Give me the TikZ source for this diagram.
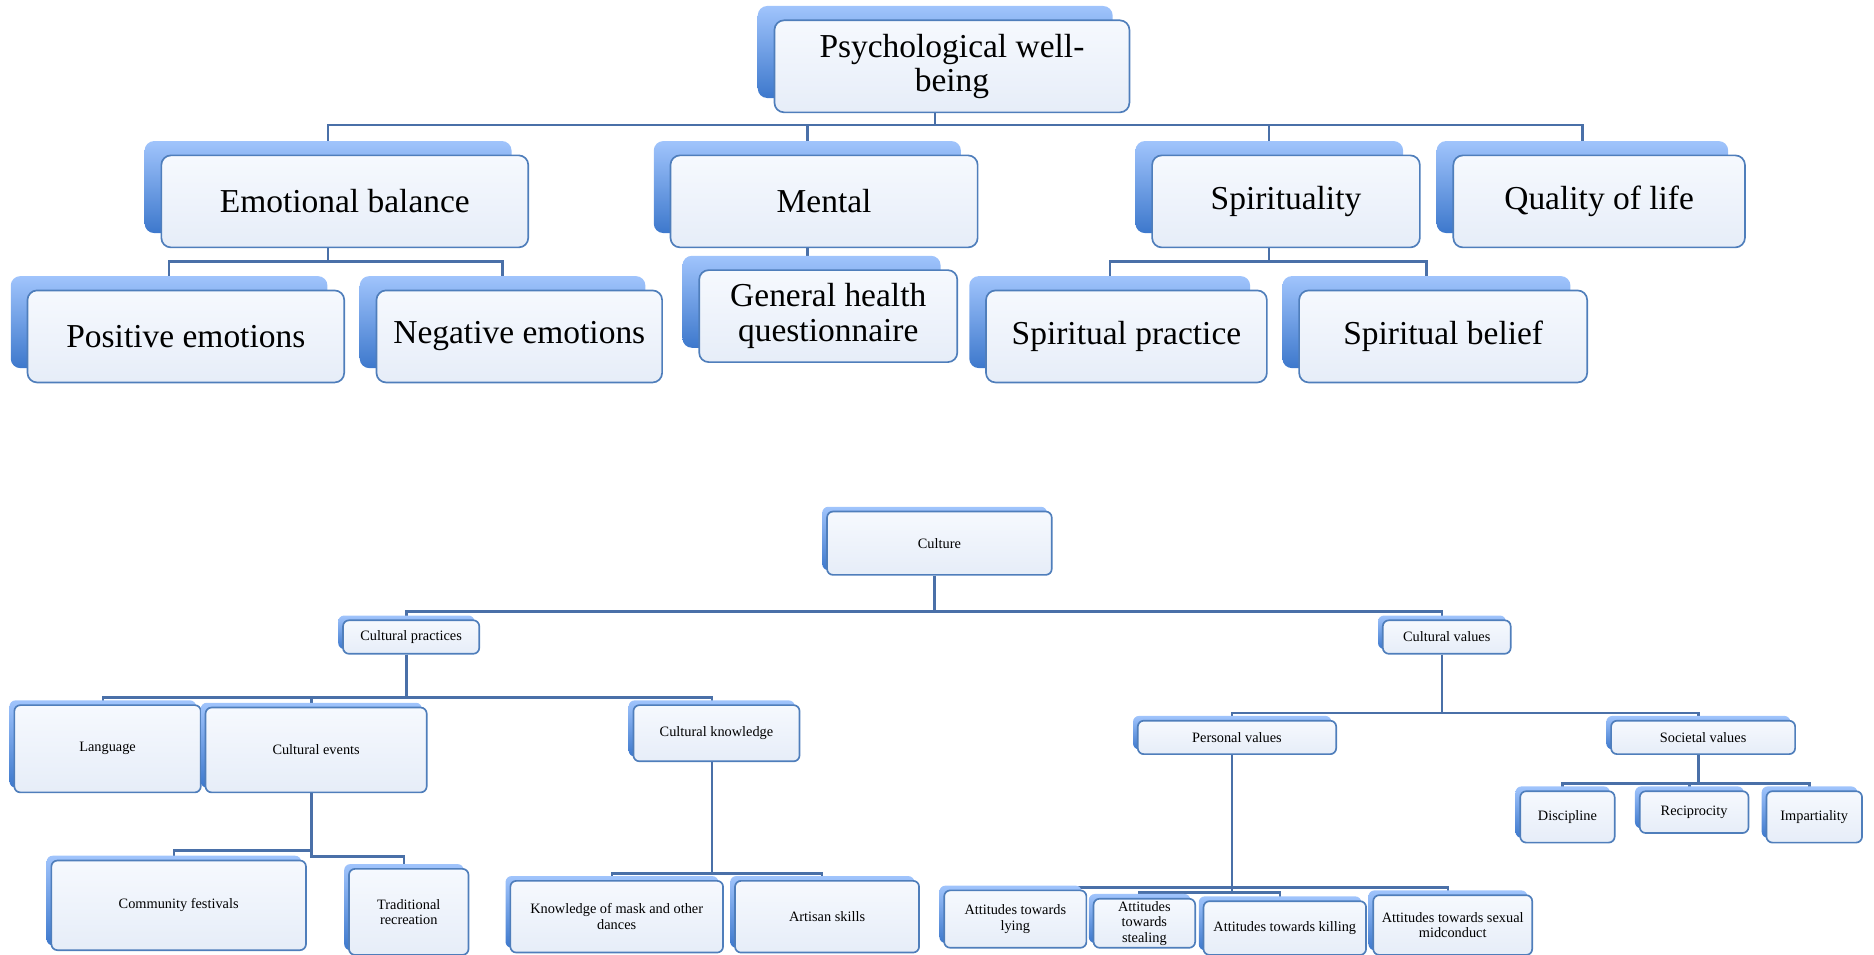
\documentclass[tikz,border=0pt]{standalone}
\usepackage{fontspec}
\setmainfont{Liberation Serif}
\usetikzlibrary{shadows,backgrounds}

\definecolor{bordo}{HTML}{4F7EBB}
\definecolor{blulinea}{HTML}{4A70A8}
\definecolor{fondoA}{HTML}{F6F9FE}
\definecolor{fondoB}{HTML}{E6EDF8}
\definecolor{ombraA}{HTML}{A0C4FC}
\definecolor{ombraB}{HTML}{3D78CC}

\begin{document}
\begin{tikzpicture}[x=0.5pt, y=-0.5pt]
	% Stili per i riquadri e le linee
	\tikzset{
		riquadro/.style={draw=bordo, line width=0.7pt, top color=fondoA, bottom color=fondoB, align=center, inner sep=1pt},
		grande/.style={riquadro, rounded corners=4pt, font=\fontsize{14}{14.5}\selectfont, minimum height=38.5pt,
			general shadow={shadow xshift=-7pt, shadow yshift=6pt, top color=ombraA, bottom color=ombraB}},
		piccolo/.style={riquadro, rounded corners=2.5pt, font=\fontsize{6}{6.5}\selectfont,
			general shadow={shadow xshift=-2pt, shadow yshift=2pt, top color=ombraA, bottom color=ombraB}},
		linea/.style={draw=blulinea, line width=1pt}
	}
	\useasboundingbox (0,0) rectangle (1568,799);

	% Benessere psicologico (parte alta)
	\node[grande, minimum width=148.5pt] (pwb) at (796.5,55.5) {Psychological well-\\being};
	\node[grande, minimum width=153.5pt] (emo) at (288.5,168.5) {Emotional balance};
	\node[grande, minimum width=128.5pt] (men) at (689.5,168.5) {Mental};
	\node[grande, minimum width=112pt] (spi) at (1076,168.5) {Spirituality};
	\node[grande, minimum width=122pt] (qol) at (1338,168.5) {Quality of life};
	\node[grande, minimum width=132.5pt] (pos) at (155.5,281.5) {Positive emotions};
	\node[grande, minimum width=119.5pt] (neg) at (434.5,281.5) {Negative emotions};
	\node[grande, minimum width=108pt] (ghq) at (693,264.5) {General health\\questionnaire};
	\node[grande, minimum width=117.5pt] (spp) at (942.5,281.5) {Spiritual practice};
	\node[grande, minimum width=120.5pt] (spb) at (1207.5,281.5) {Spiritual belief};

	% Cultura (parte bassa)
	\node[piccolo, minimum width=94pt, minimum height=26.5pt] (cul) at (786,454.5) {Culture};
	\node[piccolo, minimum width=57pt, minimum height=14pt] (cpr) at (344,533) {Cultural practices};
	\node[piccolo, minimum width=53.5pt, minimum height=14pt] (cva) at (1210.5,533) {Cultural values};
	\node[piccolo, minimum width=78pt, minimum height=36.5pt] (lan) at (90,626.5) {Language};
	\node[piccolo, minimum width=92.5pt, minimum height=35.5pt] (cev) at (264.5,627.5) {Cultural events};
	\node[piccolo, minimum width=69.5pt, minimum height=23.5pt] (ckn) at (599.5,613.5) {Cultural knowledge};
	\node[piccolo, minimum width=106.5pt, minimum height=37.5pt] (fes) at (149.5,757.5) {Community festivals};
	\node[piccolo, minimum width=50pt, minimum height=36pt] (rec) at (342,763) {Traditional\\recreation};
	\node[piccolo, minimum width=89pt, minimum height=30pt] (mas) at (516,767) {Knowledge of mask and other\\dances};
	\node[piccolo, minimum width=77pt, minimum height=30pt] (art) at (692,767) {Artisan skills};
	\node[piccolo, minimum width=83pt, minimum height=14pt] (pva) at (1035,617) {Personal values};
	\node[piccolo, minimum width=77pt, minimum height=14pt] (sva) at (1425,617) {Societal values};
	\node[piccolo, minimum width=59.5pt, minimum height=24pt] (lyi) at (849.5,769) {Attitudes towards\\lying};
	\node[piccolo, minimum width=42.5pt, minimum height=20.5pt] (ste) at (957.5,772.5) {Attitudes\\towards\\stealing};
	\node[piccolo, minimum width=68pt, minimum height=22.5pt] (kil) at (1075,776.5) {Attitudes towards killing};
	\node[piccolo, minimum width=66.5pt, minimum height=25pt] (sex) at (1215.5,774) {Attitudes towards sexual\\midconduct};
	\node[piccolo, minimum width=39.5pt, minimum height=21.5pt] (dis) at (1311.5,683.5) {Discipline};
	\node[piccolo, minimum width=45.5pt, minimum height=17.5pt] (rci) at (1417.5,679.5) {Reciprocity};
	\node[piccolo, minimum width=40pt, minimum height=21.5pt] (imp) at (1518,683.5) {Impartiality};

	% Collegamenti ad albero (sotto i riquadri)
	\begin{scope}[on background layer]
		\draw[linea] ([xshift=-7pt]pwb.south) -- ++(0,-5pt) -| ([xshift=-7pt]emo.north);
		\draw[linea] ([xshift=-7pt]pwb.south) -- ++(0,-5pt) -| ([xshift=-7pt]men.north);
		\draw[linea] ([xshift=-7pt]pwb.south) -- ++(0,-5pt) -| ([xshift=-7pt]spi.north);
		\draw[linea] ([xshift=-7pt]pwb.south) -- ++(0,-5pt) -| ([xshift=-7pt]qol.north);
		\draw[linea] ([xshift=-7pt]emo.south) -- ++(0,-5.5pt) -| ([xshift=-7pt]pos.north);
		\draw[linea] ([xshift=-7pt]emo.south) -- ++(0,-5.5pt) -| ([xshift=-7pt]neg.north);
		\draw[linea] ([xshift=-7pt]men.south) -- ++(0,-4pt) -| ([xshift=-7pt]ghq.north);
		\draw[linea] ([xshift=-7pt]spi.south) -- ++(0,-5.5pt) -| ([xshift=-7pt]spp.north);
		\draw[linea] ([xshift=-7pt]spi.south) -- ++(0,-5.5pt) -| ([xshift=-7pt]spb.north);

		\draw[linea] ([xshift=-2pt]cul.south) -- ++(0,-15pt) -| ([xshift=-2pt]cpr.north);
		\draw[linea] ([xshift=-2pt]cul.south) -- ++(0,-15pt) -| ([xshift=-2pt]cva.north);
		\draw[linea] ([xshift=-2pt]cpr.south) -- ++(0,-18pt) -| ([xshift=-2pt]lan.north);
		\draw[linea] ([xshift=-2pt]cpr.south) -- ++(0,-18pt) -| ([xshift=-2pt]cev.north);
		\draw[linea] ([xshift=-2pt]cpr.south) -- ++(0,-18pt) -| ([xshift=-2pt]ckn.north);
		\draw[linea] ([xshift=-2pt]cev.south) -- ++(0,-24pt) -| ([xshift=-2pt]fes.north);
		\draw[linea] ([xshift=-2pt]cev.south) -- ++(0,-26.5pt) -| ([xshift=-2pt]rec.north);
		\draw[linea] ([xshift=-2pt]ckn.south) -- ++(0,-46.5pt) -| ([xshift=-2pt]mas.north);
		\draw[linea] ([xshift=-2pt]ckn.south) -- ++(0,-46.5pt) -| ([xshift=-2pt]art.north);
		\draw[linea] ([xshift=-2pt]cva.south) -- ++(0,-24.5pt) -| ([xshift=-2pt]pva.north);
		\draw[linea] ([xshift=-2pt]cva.south) -- ++(0,-24.5pt) -| ([xshift=-2pt]sva.north);
		\draw[linea] ([xshift=-2pt]pva.south) -- ++(0,-55.5pt) -| ([xshift=-2pt]lyi.north);
		\draw[linea] ([xshift=-2pt]pva.south) -- ++(0,-55.5pt) -| ([xshift=-2pt]sex.north);
		\draw[linea] ([xshift=-2pt]pva.south) -- ++(0,-57.5pt) -| ([xshift=-2pt]ste.north);
		\draw[linea] ([xshift=-2pt]pva.south) -- ++(0,-57.5pt) -| ([xshift=-2pt]kil.north);
		\draw[linea] ([xshift=-2pt]sva.south) -- ++(0,-12pt) -| ([xshift=-2pt]dis.north);
		\draw[linea] ([xshift=-2pt]sva.south) -- ++(0,-12pt) -| ([xshift=-2pt]rci.north);
		\draw[linea] ([xshift=-2pt]sva.south) -- ++(0,-12pt) -| ([xshift=-2pt]imp.north);
	\end{scope}
\end{tikzpicture}
\end{document}
